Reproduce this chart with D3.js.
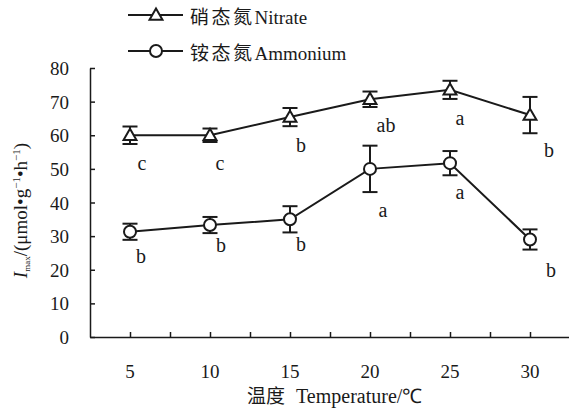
<!DOCTYPE html>
<html>
<head>
<meta charset="utf-8">
<script src="https://cdn.jsdelivr.net/npm/d3@7"></script>
<style>
  body { margin: 0; background: #fff; }
</style>
</head>
<body>
<div id="chart"></div>
<script>
// data
const temps = [5, 10, 15, 20, 25, 30];
const nitrate = [60.0, 60.0, 65.4, 70.7, 73.5, 66.0];
const nitrateErr = [2.6, 2.0, 2.7, 2.3, 2.7, 5.4];
const nitrateSig = ['c', 'c', 'b', 'ab', 'a', 'b'];
const ammonium = [31.3, 33.3, 35.0, 50.0, 51.7, 29.0];
const ammoniumErr = [2.4, 2.4, 3.9, 6.9, 3.6, 3.0];
const ammoniumSig = ['b', 'b', 'b', 'a', 'a', 'b'];
const yTicks = [0, 10, 20, 30, 40, 50, 60, 70, 80];

const serif = "'Liberation Serif', 'Times New Roman', serif";
const cjk = "'Noto Sans CJK SC', sans-serif";
const ink = '#1a1a1a';

const width = 569, height = 420;
const margin = {top: 68, right: 0, bottom: 83, left: 90};

const svg = d3.select('#chart').append('svg')
    .attr('width', width)
    .attr('height', height)
    .style('font-family', serif);

const x = d3.scaleLinear().domain([2.5, 32.5]).range([margin.left, margin.left + 480]);
const y = d3.scaleLinear().domain([0, 80]).range([height - margin.bottom, margin.top]);

// axes (ticks point inward)
svg.append('g')
    .attr('transform', `translate(0,${y(0)})`)
    .call(d3.axisBottom(x).tickValues(d3.range(5, 32.5, 2.5)).tickSizeInner(-5).tickSizeOuter(0).tickFormat(''));
svg.append('g')
    .attr('transform', `translate(${x(2.5)},0)`)
    .call(d3.axisLeft(y).tickValues(yTicks).tickSizeInner(-5).tickSizeOuter(0).tickFormat(''));
svg.selectAll('.domain, .tick line').attr('stroke', ink).attr('stroke-width', 1.5);

// tick labels
svg.append('g').selectAll('text')
    .data(temps)
    .join('text')
    .attr('x', d => x(d))
    .attr('y', y(0) + 41)
    .attr('text-anchor', 'middle')
    .attr('font-family', serif)
    .attr('font-size', 19)
    .attr('fill', ink)
    .text(d => d);
svg.append('g').selectAll('text')
    .data(yTicks)
    .join('text')
    .attr('x', x(2.5) - 21)
    .attr('y', d => y(d) + 7)
    .attr('text-anchor', 'end')
    .attr('font-family', serif)
    .attr('font-size', 19)
    .attr('fill', ink)
    .text(d => d);

// axis titles
const xl = svg.append('text')
    .attr('x', 247)
    .attr('y', 403)
    .attr('font-family', serif)
    .attr('font-size', 20)
    .attr('fill', ink);
xl.append('tspan').attr('font-family', cjk).attr('font-size', 19).text('温度');
xl.append('tspan').attr('dx', 11).text('Temperature/℃');

const yl = svg.append('text')
    .attr('transform', `translate(27,${(y(0) + y(80)) / 2 + 8}) rotate(-90)`)
    .attr('text-anchor', 'middle')
    .attr('font-family', serif)
    .attr('font-size', 19)
    .attr('fill', ink);
yl.append('tspan').attr('font-style', 'italic').text('I');
yl.append('tspan').attr('font-size', 9).attr('dy', 3).text('max');
yl.append('tspan').attr('dy', -3).text('/(μmol•g');
yl.append('tspan').attr('font-size', 11).attr('dy', -7).text('−1');
yl.append('tspan').attr('dy', 7).text('•h');
yl.append('tspan').attr('font-size', 11).attr('dy', -7).text('−1');
yl.append('tspan').attr('dy', 7).text(')');

const triangle = d3.symbol().type(d3.symbolTriangle).size(72);

function drawSeries(vals, errs, sig, marker, labelOffsets) {
    const pts = temps.map((t, i) => ({t, v: vals[i], e: errs[i], s: sig[i], off: labelOffsets[i]}));
    const g = svg.append('g');
    g.append('path')
        .datum(pts)
        .attr('fill', 'none')
        .attr('stroke', ink)
        .attr('stroke-width', 2)
        .attr('d', d3.line().x(d => x(d.t)).y(d => y(d.v)));
    // error bars
    const eb = g.selectAll('.err').data(pts).join('g').attr('class', 'err')
        .attr('stroke', ink).attr('stroke-width', 2);
    eb.append('line')
        .attr('x1', d => x(d.t)).attr('x2', d => x(d.t))
        .attr('y1', d => y(d.v + d.e)).attr('y2', d => y(d.v - d.e));
    eb.append('line')
        .attr('x1', d => x(d.t) - 7.5).attr('x2', d => x(d.t) + 7.5)
        .attr('y1', d => y(d.v + d.e)).attr('y2', d => y(d.v + d.e));
    eb.append('line')
        .attr('x1', d => x(d.t) - 7.5).attr('x2', d => x(d.t) + 7.5)
        .attr('y1', d => y(d.v - d.e)).attr('y2', d => y(d.v - d.e));
    // markers
    if (marker === 'triangle') {
        g.selectAll('.mk').data(pts).join('path')
            .attr('transform', d => `translate(${x(d.t)},${y(d.v) + 1})`)
            .attr('d', triangle)
            .attr('fill', '#fff').attr('stroke', ink).attr('stroke-width', 2);
    } else {
        g.selectAll('.mk').data(pts).join('circle')
            .attr('cx', d => x(d.t)).attr('cy', d => y(d.v)).attr('r', 6)
            .attr('fill', '#fff').attr('stroke', ink).attr('stroke-width', 2);
    }
    // significance letters
    g.selectAll('.sig').data(pts).join('text')
        .attr('x', d => x(d.t) + d.off[0])
        .attr('y', d => y(d.v) + d.off[1])
        .attr('text-anchor', 'middle')
        .attr('font-family', serif)
        .attr('font-size', 20)
        .attr('fill', ink)
        .text(d => d.s);
}

// letter offsets from each point, [dx, dy] in px
drawSeries(nitrate, nitrateErr, nitrateSig, 'triangle',
    [[12, 35], [10, 35], [11, 35], [16, 33], [10, 35], [19, 42]]);
drawSeries(ammonium, ammoniumErr, ammoniumSig, 'circle',
    [[11, 31], [11, 27], [11, 32], [13, 48], [10, 36], [21, 38]]);

// legend
const legend = svg.append('g');
const items = [{name: '硝态氮', en: 'Nitrate', m: 'triangle'}, {name: '铵态氮', en: 'Ammonium', m: 'circle'}];
items.forEach((it, i) => {
    const ly = 15 + i * 36;
    legend.append('line').attr('x1', 128).attr('x2', 183).attr('y1', ly).attr('y2', ly)
        .attr('stroke', ink).attr('stroke-width', 2);
    if (it.m === 'triangle') {
        legend.append('path').attr('transform', `translate(156,${ly + 1})`).attr('d', triangle)
            .attr('fill', '#fff').attr('stroke', ink).attr('stroke-width', 2);
    } else {
        legend.append('circle').attr('cx', 156).attr('cy', ly).attr('r', 6)
            .attr('fill', '#fff').attr('stroke', ink).attr('stroke-width', 2);
    }
    const t = legend.append('text').attr('x', 190).attr('y', ly + 9)
        .attr('font-family', serif).attr('font-size', 19).attr('fill', ink);
    t.append('tspan').attr('font-family', cjk).attr('letter-spacing', 2.5).text(it.name);
    t.append('tspan').attr('dx', 0).text(it.en);
});
</script>
</body>
</html>
